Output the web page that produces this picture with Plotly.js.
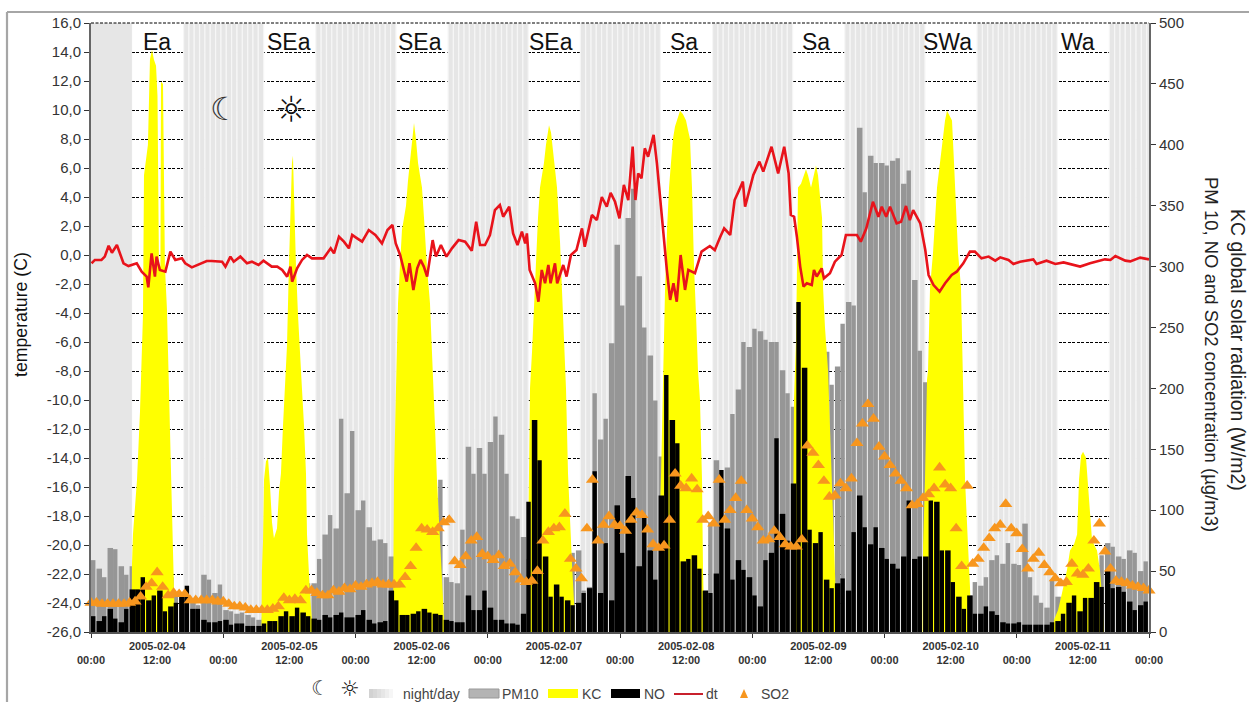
<!DOCTYPE html>
<html>
<head>
<meta charset="utf-8">
<script src="https://cdn.plot.ly/plotly-3.0.1.min.js"></script>
<style>html,body{margin:0;padding:0;background:#fff;overflow:hidden}#chart{width:1249px;height:702px}</style>
</head>
<body>
<div id="chart"></div>
<script>
// ---- data; hour 0 = 2005-02-04 00:00 ----
var pm10 = [59,52,45,69,68,54,47, 54,50,50,48,50,50,48,45, 30,28,30,25,22, 47,43,32,39, 18,17,15,16,14,12,10,
  12,14,16,20,25,30,35,38,40, 40,60,80,96,85,175,114,165,100,108,86,75,76,73,62,
  90,100,110,110,100,100,105,110,125, 45,41,40,84,152,130,151,130,156,177,162,130,95,93,78,
  60,60,70,70,60,60,60,60,65,67, 34,37,196,158,175,237,318,268,340,364,292,250,227,190,144,
  140,130,120,120,110,100,80,34, 90,141,120,135,179,199,238,234,249,247,240,238,238,215,196,185,
  200,200,220,240,240,230,203, 218,253,271,268,414,361,391,385,385,383,387,389,368,379,289,231,
  205,180,160,150,140,130,110,50,30, 41,38,45,59,63,56,73,56,55,89,45,30,24,20,43,29,
  25,30,45,50,50,55,55, 63,73,70,62,60,67,65,50,58];
var no = [13,9,13,19,11,8,19,35,35,45, 26,30,34,17,21,24,30,38,19,19, 10,8,8,9,10,6,7,7,5,5,
  5,7,9,9,13,17,13,20,16,13, 11,10,14,12,14,16,12,12,14,18, 10,7,8,9,34,26,14,14,15,17,
  19,16,15,14,10,9,8,8,30,18, 18,34,20,10,10,7,7,6,15,107, 174,141,62,29,39,29,26,22,24,32,
  36,132,32,73,26,104,65,128,110,54, 95,67,43,112,211,174,155,58,60,63, 52,34,32,48,133,85,43,59,51,45,
  30,21,59,65,159,97,75,122,271,217, 84,73,82,43,36,40,44,34,82,112, 86,72,86,69,60,56,52,62,108,60,
  62,62,108,107,67,67,41,29,19,30, 15,15,21,17,14,8,7,7,8,6, 6,6,6,6,8,9,15,24,30,17,
  28,28,41,37,51,36,37,33,25,18,22,25];
var so2 = [24,24,23,23,23,23,23,24,25,29, 37,40,49,37,30,32,31,31,26,26, 26,26,26,25,25,23,21,21,20,18,
  18,18,18,19,21,28,26,27,26,34, 34,32,30,30,34,33,36,35,38,37, 39,40,41,39,39,39,39,45,54,69,
  85,84,82,85,90,92,58,55,62,75, 78,64,62,59,63,54,56,49,43,41, 42,50,75,82,85,86,97,60,52,44,
  85,125,75,88,95,88,87,83,92,98, 96,84,72,69,71,92,130,120,118,126, 117,92,95,89,125,92,100,110,124,100,
  93,86,75,76,83,78,72,70,70,76, 153,147,137,124,111,112,122,118,126,155, 171,187,175,152,144,137,130,124,118,104,
  105,110,113,118,135,121,118,85,54,120, 56,60,69,77,85,88,105,85,81,68, 52,60,65,55,49,44,40,41,56,48,
  47,52,75,89,66,52,42,41,40,38, 37,36,34];
var dtHours = [0.1,0.7,1.9,2.5,3.2,3.8,4.7,5.3,5.9,6.8,8.3,9.2,10.1,10.4,11,11.6,11.9,12.5,13.5,14.4,15.3,16.5,17.1,18.3,20.1,21,21.9,23.8,24.4,25.3,25.9,27.1,28.3,29.2,30.4,31.3,32.8,33.8,34.7,35.6,36.2,36.5,37.4,38.3,39.2,40.1,41.3,42.2,43.5,44.1,45,45.9,46.8,47.4,48.3,49.2,50.4,51.6,52.8,53.8,54.7,55.3,
  56.1,56.7,57.3,57.8,58.5,59.2,59.8,60.4,61,62,62.6,63.5,64.5,65.5,66.7,67.9,69.1,69.9,70.6,71.5,72.4,73.3,74.2,74.8,75.9,76.6,77.4,78.2,78.8,79.1,79.6,80.6,81.2,81.8,82.4,83,83.4,84.2,84.6,85.7,86.3,87.1,88.1,89.1,89.6,90.9,91.8,92.7,93.6,94.3,95.1,95.9,96.7,97.5,98.3,98.8,99.3,99.9,100.5,101.1,102.1,102.7,103.9,104,104.5,105.1,105.7,106.3,107,107.8,108.4,109.6,110.8,112.3,113.2,114.2,114.9,116,116.8,117.5,118.3,118.7,120.2,121.3,122,123.5,124.7,
  125.8,126.6,127,127.6,128.1,128.7,129.3,129.9,130.8,131.2,131.7,132.6,133,134.1,135,136.2,137,138.1,139,139.7,140.7,141.9,142.9,143.5,144.3,145,146.2,147,147.9,148.6,149.2,150.5,151.4,152,152.9,154,155,156.2,157.1,158.3,159.5,160.4,161.6,162.9,164.1,165,166.5,167.4,168.6,171,171.6,173.4,175,176.5,179.5,181.3,184,185,185.9,187.7,188.6,190.4,192];
var dtVals = [-0.57,-0.34,-0.34,-0.11,0.64,0.16,0.69,0,-0.57,-0.76,-0.57,-1.15,-1.49,-2.23,0.11,-1.49,-0.11,-1.03,-1.15,0.23,-0.34,-0.23,-0.57,-0.85,-0.57,-0.41,-0.41,-0.46,-0.8,-0.11,-0.46,-0.11,-0.57,-0.46,-0.69,-0.39,-0.8,-0.8,-1.03,-1.49,-0.8,-1.84,-0.92,-0.34,0,-0.23,-0.23,-0.23,0.46,0.11,1.26,0.92,0.46,1.38,1.15,0.92,1.72,1.38,0.8,1.72,2.07,0.8,
  0,-1.03,-1.84,-0.57,-2.41,-0.92,-0.34,-0.8,-1.49,1.03,-0.11,0.69,-0.11,0.46,1.03,0.92,0.29,2.29,0.69,0.69,1.38,3.1,3.45,2.64,3.33,1.49,0.69,1.61,0.8,1.49,-1.03,-1.95,-3.22,-1.03,-1.95,-0.69,-1.95,-0.57,-1.95,-0.69,-1.49,0,0.34,1.84,0.57,2.76,2.41,4,3.33,4.28,3.67,2.53,4.83,3.79,7.47,3.79,5.63,5.29,7.36,6.78,8.28,6.32,1.49,0.57,-1.03,-3.1,-1.95,-3.22,0,-2.41,-1.03,-1.26,0.23,0.62,0.34,1.26,1.84,1.38,3.79,4.37,5.06,3.33,5.52,6.44,5.75,7.47,5.63,
  7.47,5.63,2.76,2.64,1.26,-0.8,-2.18,-1.95,-2.07,-1.03,-1.49,-0.92,-1.61,-1.26,-0.46,0,1.38,1.38,1.38,0.92,1.84,3.67,2.64,3.33,2.64,3.33,2.18,2.29,3.38,2.41,3.1,2.18,0.34,-1.38,-2.07,-2.53,-1.95,-1.38,-1.15,-0.57,0.23,0.23,-0.23,-0.11,-0.39,-0.16,-0.34,-0.62,-0.46,-0.3,-0.62,-0.39,-0.62,-0.51,-0.8,-0.57,-0.3,-0.34,-0.07,-0.39,-0.44,-0.18,-0.3];
var kcHours = [7.35,7.44,7.62,8.35,8.89,9.44,9.62,10.34,10.71,11.07,11.43,11.8,12.07,12.34,12.61,12.7,13.07,13.25,13.43,13.79,14.16,14.52,14.88,15.25,
  30.94,31.03,31.22,31.4,31.76,32.12,32.49,32.85,33.21,33.76,34.12,34.48,34.85,35.21,35.57,35.93,36.21,36.48,36.66,36.93,37.21,37.57,37.93,38.29,38.66,39.02,39.2,39.38,39.75,40.1,40.29,
  54.81,54.9,54.99,55.35,55.72,56.08,56.44,56.81,57.17,57.53,57.89,58.26,58.62,58.98,59.35,59.71,60.07,60.44,60.98,61.52,62.07,62.43,62.79,63.34,63.7,64.07,64.25,
  79.22,79.31,79.49,79.67,80.04,80.4,80.76,81.13,81.49,81.85,82.21,82.58,82.94,83.12,83.49,83.85,84.21,84.57,85.12,85.48,85.84,86.21,86.57,86.93,87.3,87.66,87.84,
  103.18,103.27,103.45,103.81,104.17,104.54,104.9,105.26,105.63,105.99,106.35,106.9,107.44,107.99,108.35,108.71,109.07,109.44,109.8,110.16,110.53,110.89,111.07,111.34,
  127.31,127.4,127.58,127.95,128.13,128.31,128.86,129.4,129.76,130.13,130.67,131.03,131.58,131.94,132.3,132.67,132.85,133.21,133.76,133.94,134.48,134.85,135.12,135.39,
  150.91,151,151.36,151.72,151.91,152.27,152.81,153.54,154.08,154.63,154.99,155.35,155.72,156.26,156.62,156.81,157.35,157.89,158.26,158.62,159.17,159.53,159.71,
  174.59,174.77,175.5,176.22,177.13,177.68,178.4,178.95,179.13,179.31,179.67,180.04,180.58,180.94,181.31,181.67,182.58,183.12,183.48,183.85];
var kcVals = [0,55,80,125,180,260,375,400,470,478,470,465,440,300,300,452,450,375,300,265,200,125,60,0,
  0,50,75,125,140,143,120,90,77,85,115,130,170,200,235,300,340,385,391,340,300,260,235,200,170,130,80,60,30,10,0,
  0,50,125,200,270,300,330,340,350,370,385,405,418,405,385,375,365,340,300,270,215,170,125,70,40,10,0,
  0,60,120,200,230,270,310,340,365,375,385,400,412,416,410,395,380,365,320,280,240,200,130,90,55,25,0,
  0,100,130,215,280,330,365,385,405,415,420,428,425,420,412,405,365,300,260,215,190,125,50,0,
  0,60,190,240,320,365,368,375,380,375,365,372,383,375,360,340,283,250,215,190,110,60,30,0,
  0,70,125,207,215,283,311,365,385,405,420,428,425,420,385,365,311,283,215,125,70,37,0,
  0,10,18,32,51,67,72,80,97,125,145,148,143,120,97,75,67,50,30,0];
var nightStartHour = 16.8, nightEndHour = 31.35, nightBars = 15;   // dark hours each day, repeated
var tempTicks = [16,14,12,10,8,6,4,2,0,-2,-4,-6,-8,-10,-12,-14,-16,-18,-20,-22,-24,-26];
var radTicks = [0,50,100,150,200,250,300,350,400,450,500];
var dayNames = ['2005-02-04','2005-02-05','2005-02-06','2005-02-07','2005-02-08','2005-02-09','2005-02-10','2005-02-11'];
var windLabels = ['Ea','SEa','SEa','SEa','Sa','Sa','SWa','Wa'];
var windPx = [157,289,420,551,684,816,947,1078];

// ---- helpers ----
function T(h){ return new Date(Date.UTC(2005,1,4)+h*3600000).toISOString().slice(0,16).replace('T',' '); }
var HR = 3600000, L=91, R=1149, TOP=23, BOT=632;
function fx(p){ return (p-L)/(R-L); }
function fy(p){ return 1-(p-TOP)/(BOT-TOP); }
var hours = pm10.map(function(_,i){ return i; });

// bars are joined, with a thin gap about every second hour
var gaps = {};
for (var k=0;k<100;k++) gaps[Math.round(1.43+2.023*k)] = 1;
var barW = hours.map(function(i){ return (gaps[i+1]?0.8:1)*HR; });

// night stripes
var nx=[], nw=[], nl=[];
nx.push(T(0)); nw.push(7.35*HR); nl.push('#e8e8e8');
for (var d=0;d<8;d++) for (var b=0;b<nightBars;b++){
  var h = d*24+nightStartHour+b*(nightEndHour-nightStartHour)/nightBars;
  if (h<192){ nx.push(T(h)); nw.push((nightEndHour-nightStartHour)/nightBars*HR); nl.push('#f6f6f6'); }
}

var data = [
 {type:'scatter',x:[T(0),T(192)],y:[0,0],yaxis:'y',mode:'lines',line:{width:0},showlegend:false,hoverinfo:'skip'},
 {name:'night/day',type:'bar',x:nx,y:nx.map(function(){return 500;}),width:nw,offset:0,yaxis:'y2',
  marker:{color:'#e6e6e6',line:{color:nl,width:1.2}},showlegend:false},
 {name:'PM10',type:'bar',x:hours.map(T),y:pm10,width:barW,offset:0,yaxis:'y2',marker:{color:'#969696',line:{width:0}},showlegend:false},
 {name:'KC',type:'scatter',mode:'lines',x:kcHours.map(T),y:kcVals,yaxis:'y2',fill:'tozeroy',fillcolor:'#ffff00',line:{width:0,color:'#ffff00'},showlegend:false},
 {name:'NO',type:'bar',x:hours.map(T),y:no,width:barW,offset:0,yaxis:'y3',marker:{color:'#000000',line:{width:0}},showlegend:false},
 {name:'dt',type:'scatter',mode:'lines',x:dtHours.map(T),y:dtVals,yaxis:'y4',line:{color:'#e8131b',width:2.6},showlegend:false},
 {name:'SO2',type:'scatter',mode:'markers',x:so2.map(function(_,i){return T(i);}),y:so2,yaxis:'y5',cliponaxis:false,
  marker:{symbol:'triangle-up',size:11.5,color:'#f7961e',line:{width:0}},showlegend:false}
];

// x ticks: labels every 12 h, tick marks only at midnight
var tv=[], tt=[], mv=[];
for (var d2=0;d2<=8;d2++){
  tv.push(T(d2*24)); tt.push('\u00a0<br>00:00'); mv.push(T(d2*24));
  if (d2<8){ tv.push(T(d2*24+12)); tt.push(dayNames[d2]+'<br>12:00'); }
}

var annotations = [];
function note(text,px,py,size,color,extra){
  var a={text:text,xref:'paper',yref:'paper',x:fx(px),y:fy(py),xanchor:'center',yanchor:'middle',showarrow:false,
         font:{family:'Liberation Sans, Arial, sans-serif',size:size,color:color}};
  for (var key in (extra||{})) a[key]=extra[key];
  annotations.push(a);
}
windLabels.forEach(function(w,i){ note(w,windPx[i],42,23,'#111'); });
note('temperature (C)',21,315,17.7,'#111',{textangle:-90});
note('KC global solar radiation (W/m2)',1238,350,19.5,'#222',{textangle:90});
note('PM 10, NO and SO2 concentration (\u00b5g/m3)',1212,354,18.5,'#222',{textangle:90});
var sym='DejaVu Sans';
note('\u263e',224,109,32,'#222',{font:{family:sym,size:32,color:'#333'}});
note('\u263c',291,109,36,'#222',{font:{family:sym,size:36,color:'#111',weight:'bold'}});
note('\u263e',320,688,20,'#222',{font:{family:sym,size:20,color:'#333'}});
note('\u263c',350,688,22,'#222',{font:{family:sym,size:22,color:'#111',weight:'bold'}});
note('night/day',431,694,14,'#444');
note('PM10',520,694,14,'#444');
note('KC',591,694,14,'#444');
note('NO',654,694,14,'#444');
note('dt',712,694,14,'#444');
note('SO2',775,694,14,'#444');

var shapes = [];
function line(x0,y0,x1,y1,color,width,dash){
  shapes.push({type:'line',xref:'paper',yref:'paper',x0:fx(x0),y0:fy(y0),x1:fx(x1),y1:fy(y1),layer:'above',
               line:{color:color,width:width,dash:dash||'solid'}});
}
function rect(x0,y0,x1,y1,fill,edge){
  shapes.push({type:'rect',xref:'paper',yref:'paper',x0:fx(x0),y0:fy(y0),x1:fx(x1),y1:fy(y1),layer:'above',
               fillcolor:fill,line:{color:edge||fill,width:edge?1:0}});
}
line(7,12,1249,12,'#a6a6a6',2.2);
line(7,12,7,702,'#a6a6a6',2.2);
line(91,23,1149,23,'#000',1,'3px,1.5px');
['#d2d2d2','#d8d8d8','#dfdfdf','#e6e6e6','#eeeeee','#f6f6f6'].forEach(function(c,i){ rect(369+i*4,689,373+i*4,698,c); });
rect(469,689,499,698,'#b4b4b4','#999999');
rect(548,689,578,698,'#ffff00');
rect(611,689,640,698,'#000000');
line(674,694,703,694,'#c8202c',2);
shapes.push({type:'path',xref:'paper',yref:'paper',layer:'above',fillcolor:'#f7961e',line:{width:0},
  path:'M '+fx(740)+' '+fy(698)+' L '+fx(748)+' '+fy(698)+' L '+fx(744)+' '+fy(689)+' Z'});

var tickFont = {family:'Liberation Sans, Arial, sans-serif',size:15,color:'#333'};
var hidden = function(range){ return {overlaying:'y',range:range,visible:false,showgrid:false,zeroline:false,fixedrange:true}; };
var layout = {
  width:1249,height:702,
  margin:{l:L,r:1249-R,t:TOP,b:702-BOT,pad:0},
  paper_bgcolor:'#fff',plot_bgcolor:'#fff',
  barmode:'overlay',showlegend:false,hovermode:false,
  xaxis:{type:'date',range:[T(0),T(192)],tickmode:'array',tickvals:tv,ticktext:tt,ticks:'',
    showline:true,linecolor:'#555',linewidth:1.5,showgrid:false,zeroline:false,ticklabelstandoff:3,tickangle:0,
    tickfont:{family:'Liberation Sans, Arial, sans-serif',size:11,color:'#333',weight:'bold'},
    minor:{tickmode:'array',tickvals:mv,ticks:'outside',ticklen:4,tickcolor:'#333',tickwidth:1,showgrid:false}},
  yaxis:{range:[-26,16],tickmode:'array',tickvals:tempTicks,
    ticktext:tempTicks.map(function(v){return v.toFixed(1).replace('.',',');}),
    ticks:'outside',ticklen:5,tickcolor:'#333',showline:true,linecolor:'#666',linewidth:2,
    showgrid:true,gridcolor:'#000',gridwidth:1,griddash:'3px,1.5px',zeroline:false,tickfont:tickFont},
  yaxis2:{overlaying:'y',side:'right',range:[0,500],tickmode:'array',tickvals:radTicks,ticktext:radTicks.map(String),
    ticks:'outside',ticklen:5,tickcolor:'#333',showline:true,linecolor:'#666',linewidth:2,showgrid:false,zeroline:false,tickfont:tickFont},
  yaxis3:hidden([0,500]),
  yaxis4:hidden([-26,16]),
  yaxis5:hidden([0,500]),
  annotations:annotations,
  shapes:shapes
};
Plotly.newPlot('chart',data,layout,{displayModeBar:false,staticPlot:true});
</script>
</body>
</html>
